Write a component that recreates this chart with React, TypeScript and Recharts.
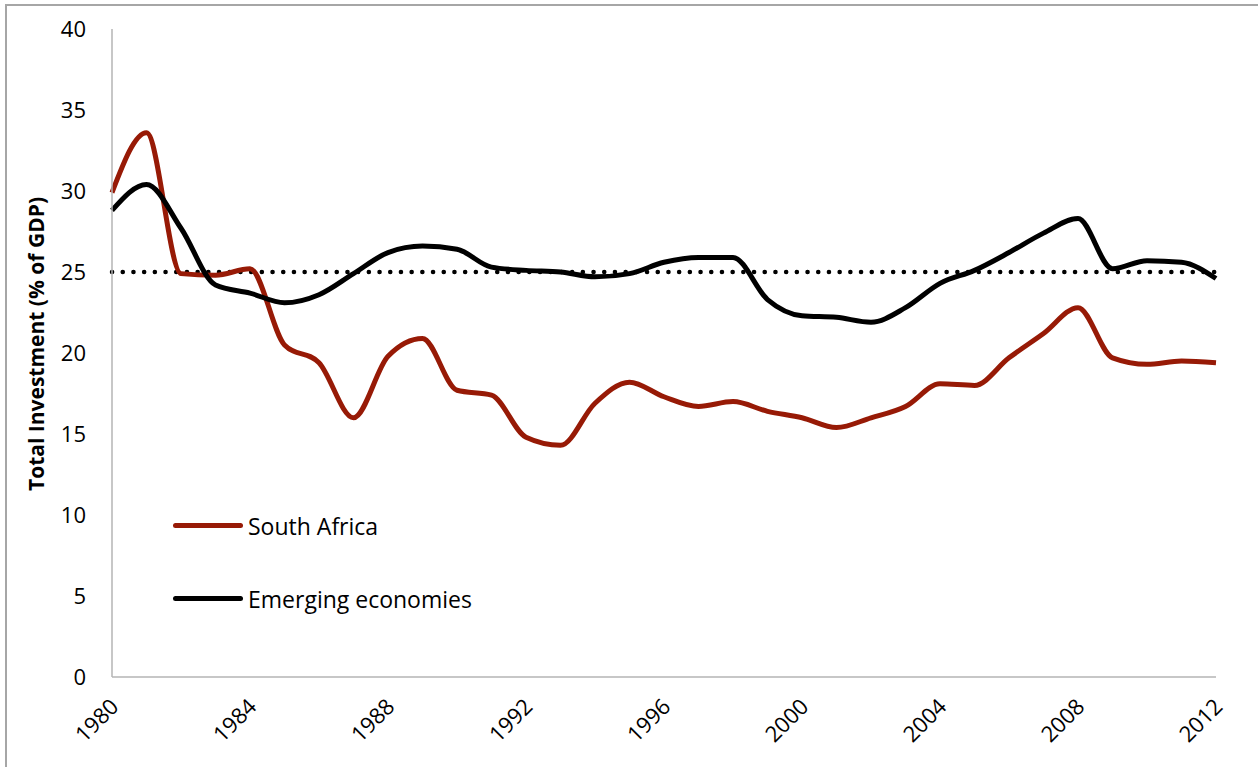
import { LineChart, Line, XAxis, YAxis, ReferenceLine, Label } from 'recharts';

const years = [
  1980, 1981, 1982, 1983, 1984, 1985, 1986, 1987, 1988, 1989, 1990, 1991, 1992, 1993, 1994, 1995, 1996,
  1997, 1998, 1999, 2000, 2001, 2002, 2003, 2004, 2005, 2006, 2007, 2008, 2009, 2010, 2011, 2012,
];
const southAfrica = [
  29.9, 33.6, 24.9, 24.8, 25.2, 20.5, 19.4, 16.0, 19.8, 20.9, 17.7, 17.4, 14.8, 14.3, 16.9, 18.2, 17.3,
  16.7, 17.0, 16.4, 16.0, 15.4, 16.0, 16.7, 18.1, 18.0, 19.7, 21.2, 22.8, 19.7, 19.3, 19.5, 19.4,
];
const emerging = [
  28.8, 30.4, 27.7, 24.2, 23.7, 23.1, 23.6, 24.9, 26.2, 26.6, 26.4, 25.3, 25.1, 25.0, 24.7, 24.9, 25.6,
  25.9, 25.9, 23.3, 22.3, 22.2, 21.9, 22.8, 24.3, 25.1, 26.2, 27.4, 28.3, 25.2, 25.7, 25.6, 24.6,
];
const benchmark = 25;
const xTicks = [1980, 1984, 1988, 1992, 1996, 2000, 2004, 2008, 2012];
const yTicks = [0, 5, 10, 15, 20, 25, 30, 35, 40];
const seriesNames = ['South Africa', 'Emerging economies'];
const seriesColors = ['#971a06', '#000000'];

const data = years.map((year, i) => ({ year, sa: southAfrica[i], em: emerging[i] }));

const FONT = '"Open Sans", sans-serif';
const AXIS_GREY = '#b5b5b5';

function XTick(props: any) {
  const { x, y, payload } = props;
  const ax = x + 8;
  const ay = y + 23;
  return (
    <text
      x={ax}
      y={ay}
      transform={`rotate(-45, ${ax}, ${ay})`}
      textAnchor="end"
      fontFamily={FONT}
      fontSize={22}
      fill="#000"
    >
      {payload.value}
    </text>
  );
}

function YTitle(props: any) {
  const { viewBox } = props;
  const cx = 36;
  const cy = viewBox.y + viewBox.height / 2 - 9;
  return (
    <text
      x={cx}
      y={cy}
      transform={`rotate(-90, ${cx}, ${cy})`}
      textAnchor="middle"
      dominantBaseline="central"
      fontFamily={FONT}
      fontWeight={700}
      fontSize={21}
      fill="#000"
    >
      Total Investment (% of GDP)
    </text>
  );
}

export default function App() {
  return (
    <div style={{ position: 'fixed', left: 0, top: 0, width: 1258, height: 767, overflow: 'hidden', background: '#fff' }}>
      <div
        style={{
          position: 'absolute',
          left: 5,
          top: 4,
          width: 1300,
          height: 800,
          borderTop: '2px solid #a6a6a6',
          borderLeft: '2px solid #a6a6a6',
        }}
      />
      <div style={{ position: 'absolute', left: 0, top: 0 }}>
        <LineChart width={1258} height={767} data={data} margin={{ top: 29, right: 42, left: 0, bottom: 0 }}>
          <XAxis
            dataKey="year"
            type="number"
            domain={[1980, 2012]}
            ticks={xTicks}
            interval={0}
            tickLine={false}
            axisLine={{ stroke: AXIS_GREY, strokeWidth: 1.5 }}
            tick={<XTick />}
            height={90}
          />
          <YAxis
            domain={[0, 40]}
            ticks={yTicks}
            interval={0}
            tickLine={false}
            axisLine={{ stroke: AXIS_GREY, strokeWidth: 1.5 }}
            tick={{ fontFamily: FONT, fontSize: 22, fill: '#000' }}
            tickMargin={20}
            width={112}
          >
            <Label content={<YTitle />} />
          </YAxis>
          <ReferenceLine
            y={benchmark}
            stroke="#000"
            strokeWidth={4.5}
            strokeDasharray="0.1 10.6"
            strokeLinecap="round"
          />
          <Line
            type="monotone"
            dataKey="sa"
            name={seriesNames[0]}
            stroke={seriesColors[0]}
            strokeWidth={5}
            dot={false}
            activeDot={false}
            isAnimationActive={false}
          />
          <Line
            type="monotone"
            dataKey="em"
            name={seriesNames[1]}
            stroke={seriesColors[1]}
            strokeWidth={5}
            dot={false}
            activeDot={false}
            isAnimationActive={false}
          />
        </LineChart>
      </div>
      <div style={{ position: 'absolute', left: 173, top: 489 }}>
        {seriesNames.map((name, i) => (
          <div key={name} style={{ display: 'flex', alignItems: 'center', height: 73 }}>
            <div style={{ width: 70, height: 5, borderRadius: 3, background: seriesColors[i] }} />
            <span style={{ fontFamily: FONT, fontSize: 23, color: '#000', marginLeft: 5 }}>{name}</span>
          </div>
        ))}
      </div>
    </div>
  );
}
